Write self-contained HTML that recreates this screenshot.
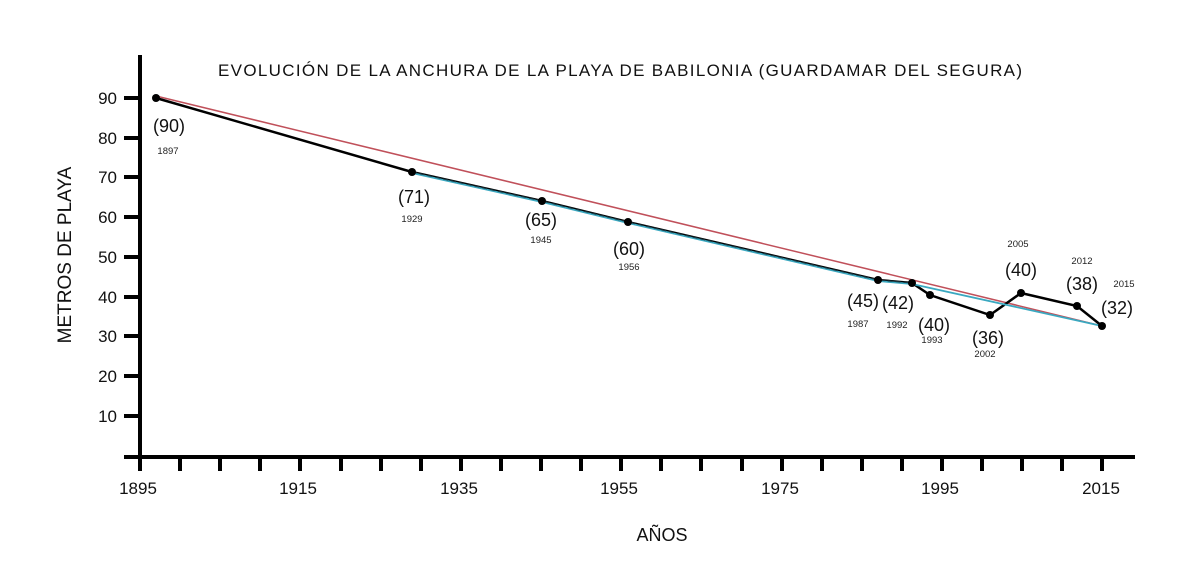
<!DOCTYPE html>
<html><head><style>
html,body{margin:0;padding:0;background:#fff;}
svg{display:block;font-family:"Liberation Sans",Arial,sans-serif;}
</style></head><body>
<svg width="1200" height="564" viewBox="0 0 1200 564" xmlns="http://www.w3.org/2000/svg">
<rect width="1200" height="564" fill="#fff"/>
<text x="218" y="76" font-size="17" textLength="804" lengthAdjust="spacing" fill="#111">EVOLUCIÓN DE LA ANCHURA DE LA PLAYA DE BABILONIA (GUARDAMAR DEL SEGURA)</text>
<!-- axes -->
<line x1="140" y1="55" x2="140" y2="459" stroke="#000" stroke-width="4"/>
<line x1="124" y1="457" x2="1135" y2="457" stroke="#000" stroke-width="4"/>
<g stroke="#000" stroke-width="4">
<line x1="124" y1="98" x2="140" y2="98"/><line x1="124" y1="138" x2="140" y2="138"/>
<line x1="124" y1="177" x2="140" y2="177"/><line x1="124" y1="217" x2="140" y2="217"/>
<line x1="124" y1="257" x2="140" y2="257"/><line x1="124" y1="297" x2="140" y2="297"/>
<line x1="124" y1="336" x2="140" y2="336"/><line x1="124" y1="376" x2="140" y2="376"/>
<line x1="124" y1="416" x2="140" y2="416"/>
</g>
<g stroke="#000" stroke-width="4">
<line x1="140" y1="457" x2="140" y2="471"/><line x1="180" y1="457" x2="180" y2="471"/>
<line x1="220" y1="457" x2="220" y2="471"/><line x1="260" y1="457" x2="260" y2="471"/>
<line x1="300" y1="457" x2="300" y2="471"/><line x1="341" y1="457" x2="341" y2="471"/>
<line x1="381" y1="457" x2="381" y2="471"/><line x1="421" y1="457" x2="421" y2="471"/>
<line x1="461" y1="457" x2="461" y2="471"/><line x1="501" y1="457" x2="501" y2="471"/>
<line x1="541" y1="457" x2="541" y2="471"/><line x1="581" y1="457" x2="581" y2="471"/>
<line x1="621" y1="457" x2="621" y2="471"/><line x1="661" y1="457" x2="661" y2="471"/>
<line x1="701" y1="457" x2="701" y2="471"/><line x1="742" y1="457" x2="742" y2="471"/>
<line x1="782" y1="457" x2="782" y2="471"/><line x1="822" y1="457" x2="822" y2="471"/>
<line x1="862" y1="457" x2="862" y2="471"/><line x1="902" y1="457" x2="902" y2="471"/>
<line x1="942" y1="457" x2="942" y2="471"/><line x1="982" y1="457" x2="982" y2="471"/>
<line x1="1022" y1="457" x2="1022" y2="471"/><line x1="1062" y1="457" x2="1062" y2="471"/>
<line x1="1102" y1="457" x2="1102" y2="471"/>
</g>
<g font-size="17" fill="#111" text-anchor="end">
<text x="117" y="104">90</text><text x="117" y="144">80</text><text x="117" y="183">70</text>
<text x="117" y="223">60</text><text x="117" y="263">50</text><text x="117" y="303">40</text>
<text x="117" y="342">30</text><text x="117" y="382">20</text><text x="117" y="422">10</text>
</g>
<g font-size="17" fill="#111" text-anchor="middle">
<text x="138" y="494">1895</text><text x="298" y="494">1915</text><text x="459" y="494">1935</text>
<text x="619" y="494">1955</text><text x="780" y="494">1975</text><text x="940" y="494">1995</text>
<text x="1101" y="494">2015</text>
</g>
<text x="662" y="541" font-size="18" text-anchor="middle" fill="#111">AÑOS</text>
<text transform="translate(71,255) rotate(-90)" font-size="19" text-anchor="middle" fill="#111">METROS DE PLAYA</text>
<!-- lines -->
<line x1="156" y1="96" x2="1102" y2="326" stroke="#c0505a" stroke-width="1.5"/>
<polyline points="156,98 412,172 542,201 628,222 878,280 912,283 930,295 990,315 1021,293 1077,306 1102,326" fill="none" stroke="#000" stroke-width="2.5"/>
<polyline points="412,173 542,202 628,223 878,281 912,284 1102,326" fill="none" stroke="#3aa8c0" stroke-width="1.8"/>
<polyline points="412,172 542,201 628,222 878,280 912,283" fill="none" stroke="#1a3a44" stroke-width="1.2" stroke-dasharray="5,3"/>
<g fill="#000">
<circle cx="156" cy="98" r="4"/><circle cx="412" cy="172" r="4"/><circle cx="542" cy="201" r="4"/>
<circle cx="628" cy="222" r="4"/><circle cx="878" cy="280" r="4"/><circle cx="912" cy="283" r="4"/>
<circle cx="930" cy="295" r="4"/><circle cx="990" cy="315" r="4"/><circle cx="1021" cy="293" r="4"/>
<circle cx="1077" cy="306" r="4"/><circle cx="1102" cy="326" r="4"/>
</g>
<g font-size="18" fill="#111" text-anchor="middle">
<text x="169" y="132">(90)</text><text x="414" y="203">(71)</text><text x="541" y="226">(65)</text>
<text x="629" y="255">(60)</text><text x="863" y="307">(45)</text><text x="898" y="309">(42)</text>
<text x="934" y="331">(40)</text><text x="988" y="344">(36)</text><text x="1021" y="276">(40)</text>
<text x="1082" y="290">(38)</text><text x="1117" y="314">(32)</text>
</g>
<g font-size="9.5" fill="#222" text-anchor="middle">
<text x="168" y="154">1897</text><text x="412" y="222">1929</text><text x="541" y="243">1945</text>
<text x="629" y="270">1956</text><text x="858" y="327">1987</text><text x="897" y="328">1992</text>
<text x="932" y="343">1993</text><text x="985" y="357">2002</text><text x="1018" y="247">2005</text>
<text x="1082" y="264">2012</text><text x="1124" y="287">2015</text>
</g>
</svg>
</body></html>
